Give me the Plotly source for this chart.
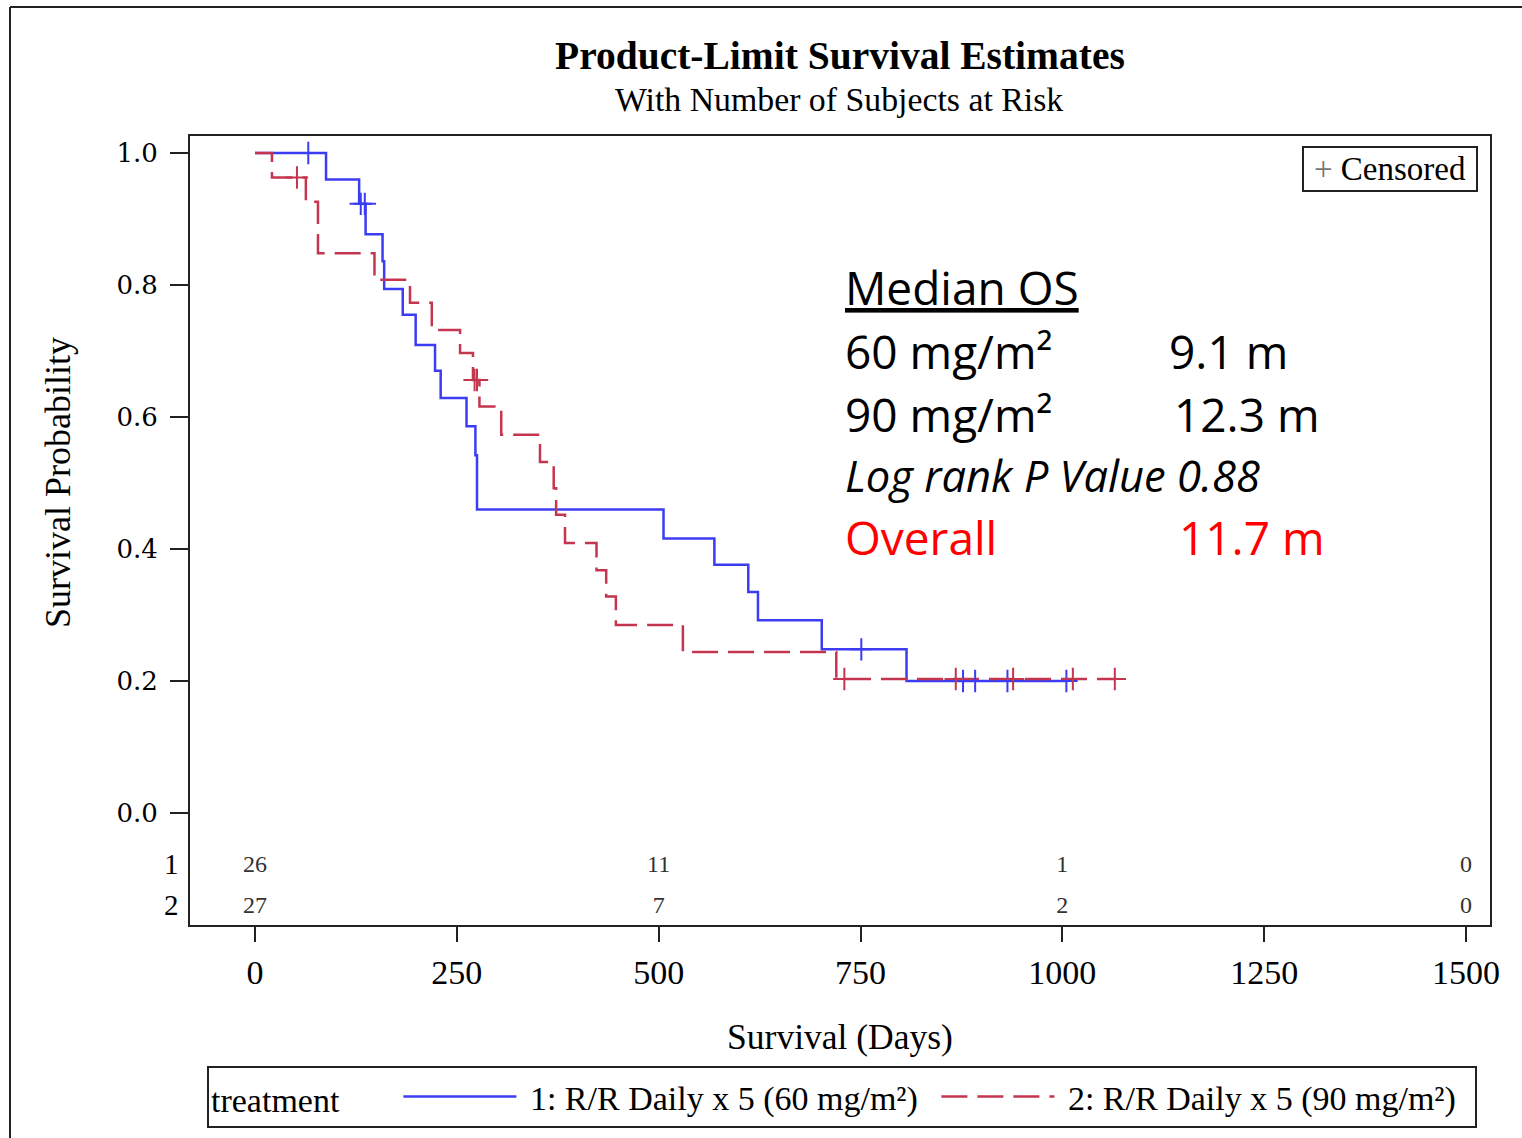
import plotly.graph_objects as go

# ---------------- data ----------------
days_g1 = [0, 88, 129, 137, 158, 160, 183, 199, 223, 230, 262, 273, 275, 506, 569, 611, 623, 702, 807, 1005]
surv_g1 = [1.0, 0.960, 0.923, 0.877, 0.836, 0.794, 0.755, 0.709, 0.670, 0.629, 0.586, 0.542, 0.460,
           0.416, 0.376, 0.335, 0.292, 0.248, 0.200, 0.200]
cens_days_g1 = [66, 131, 136, 751, 877, 892, 932, 1005]
cens_surv_g1 = [1.0, 0.923, 0.923, 0.248, 0.200, 0.200, 0.200, 0.200]

days_g2 = [0, 21, 63, 78, 148, 192, 219, 254, 270, 278, 305, 353, 370, 373, 384, 423, 435, 447, 530, 720, 1065]
surv_g2 = [1.0, 0.963, 0.926, 0.848, 0.808, 0.773, 0.732, 0.697, 0.656, 0.616, 0.573, 0.532, 0.492, 0.452,
           0.409, 0.368, 0.328, 0.285, 0.244, 0.203, 0.203]
cens_days_g2 = [52, 272, 275, 730, 868, 939, 1013, 1065]
cens_surv_g2 = [0.963, 0.656, 0.656, 0.203, 0.203, 0.203, 0.203, 0.203]

risk_days = [0, 500, 1000, 1500]
risk_g1 = [26, 11, 1, 0]
risk_g2 = [27, 7, 2, 0]

x_ticks = [0, 250, 500, 750, 1000, 1250, 1500]
y_ticks = [0.0, 0.2, 0.4, 0.6, 0.8, 1.0]
y_ticktext = ["0.0", "0.2", "0.4", "0.6", "0.8", "1.0"]

name_g1 = " 1: R/R Daily x 5 (60 mg/m²)"
name_g2 = " 2: R/R Daily x 5 (90 mg/m²)"

# ---------------- styles ----------------
BLUE = "#3c3cf2"
RED = "#c4364f"
AX = "#222222"
SERIF = "Liberation Serif"
ROW1_Y = -0.0803
ROW2_Y = -0.1424

fig = go.Figure()

fig.add_trace(go.Scatter(x=days_g1, y=surv_g1, mode="lines", line=dict(shape="hv", color=BLUE, width=2.5),
                         name=name_g1))
fig.add_trace(go.Scatter(x=days_g2, y=surv_g2, mode="lines",
                         line=dict(shape="hv", color=RED, width=2.5, dash="26px,10px"), name=name_g2))
fig.add_trace(go.Scatter(x=cens_days_g1, y=cens_surv_g1, mode="markers", showlegend=False,
                         marker=dict(symbol="cross-thin", size=16, line=dict(width=2, color=BLUE))))
fig.add_trace(go.Scatter(x=cens_days_g2, y=cens_surv_g2, mode="markers", showlegend=False,
                         marker=dict(symbol="cross-thin", size=16, line=dict(width=2, color=RED))))

# number at risk rows
fig.add_trace(go.Scatter(x=risk_days, y=[ROW1_Y] * len(risk_days), mode="text", showlegend=False,
                         text=[str(v) for v in risk_g1], textfont=dict(family=SERIF, size=24, color="#333")))
fig.add_trace(go.Scatter(x=risk_days, y=[ROW2_Y] * len(risk_days), mode="text", showlegend=False,
                         text=[str(v) for v in risk_g2], textfont=dict(family=SERIF, size=24, color="#333")))

W, H = 1522, 1138
L, R, T, B = 190, 32, 136, 213
pw, ph = W - L - R, H - T - B


def px(x):
    return (x - L) / pw


def py(y):
    return (H - B - y) / ph


annos = []
annos.append(dict(text="<b>Product-Limit Survival Estimates</b>", x=px(840), y=py(56), xref="paper", yref="paper",
                  showarrow=False, font=dict(family=SERIF, size=39.5, color="black"), xanchor="center",
                  yanchor="middle"))
annos.append(dict(text="With Number of Subjects at Risk", x=px(839), y=py(99), xref="paper", yref="paper",
                  showarrow=False, font=dict(family=SERIF, size=33.8, color="black"), xanchor="center",
                  yanchor="middle"))
annos.append(dict(text="Survival Probability", x=px(58), y=py(483), xref="paper", yref="paper", textangle=-90,
                  showarrow=False, font=dict(family=SERIF, size=36, color="black"), xanchor="center",
                  yanchor="middle"))
for lab, yy in (("1", ROW1_Y), ("2", ROW2_Y)):
    annos.append(dict(text=lab, x=px(171), y=yy, xref="paper", yref="y", showarrow=False, yshift=2,
                      font=dict(family=SERIF, size=29, color="black"), xanchor="center", yanchor="middle"))

annos.append(dict(text="<span style='color:#777'>+</span> Censored", x=px(1390), y=py(169), xref="paper",
                  yref="paper", showarrow=False, font=dict(family=SERIF, size=33, color="black"),
                  xanchor="center", yanchor="middle", bordercolor=AX, borderwidth=2, borderpad=4,
                  width=164, height=34, bgcolor="white"))

SANS = "Open Sans"
lines_left = [("<u>Median OS</u>", 287, 46, "black"), ("60 mg/m²", 351, 46, "black"), ("90 mg/m²", 414, 46, "black"),
              ("<i>Log rank P Value 0.88</i>", 475, 43.5, "black"), ("Overall", 537, 46, "#ff0000")]
for t, yy, s, c in lines_left:
    annos.append(dict(text=t, x=px(843), y=py(yy), xref="paper", yref="paper", showarrow=False,
                      font=dict(family=SANS, size=s, color=c), xanchor="left", yanchor="middle"))
lines_right = [("9.1 m", 1167, 351, "black"), ("12.3 m", 1172, 414, "black"), ("11.7 m", 1177, 537, "#ff0000")]
for t, xx, yy, c in lines_right:
    annos.append(dict(text=t, x=px(xx), y=py(yy), xref="paper", yref="paper", showarrow=False,
                      font=dict(family=SANS, size=46, color=c), xanchor="left", yanchor="middle"))

shapes = [
    dict(type="line", xref="paper", yref="paper", x0=px(10), y0=py(7), x1=px(1530), y1=py(7),
         line=dict(color=AX, width=2)),
    dict(type="line", xref="paper", yref="paper", x0=px(10), y0=py(7), x1=px(10), y1=py(1145),
         line=dict(color=AX, width=2)),
]

fig.update_layout(
    width=W, height=H, autosize=False,
    margin=dict(l=L, r=R, t=T, b=B, pad=0, autoexpand=False),
    paper_bgcolor="white", plot_bgcolor="white",
    font=dict(family=SERIF, color="black"),
    annotations=annos, shapes=shapes,
    showlegend=True,
    legend=dict(orientation="h", x=px(207), y=py(1066), xanchor="left", yanchor="top",
                bordercolor=AX, borderwidth=2, bgcolor="white",
                title=dict(text="treatment      ", font=dict(family=SERIF, size=34)),
                font=dict(family=SERIF, size=34, color="black"), itemwidth=113,
                entrywidth=410, entrywidthmode="pixels"),
)
fig.update_xaxes(range=[-80.5, 1529.7], tickvals=x_ticks, ticks="outside", ticklen=15, tickwidth=2, tickcolor=AX,
                 showline=True, mirror=True, linecolor=AX, linewidth=2, showgrid=False, zeroline=False,
                 automargin=False,
                 tickfont=dict(family=SERIF, size=34, color="black"), ticklabelstandoff=1,
                 title=dict(text="Survival (Days)", font=dict(family=SERIF, size=35.5, color="black"), standoff=34))
fig.update_yaxes(range=[-0.1697, 1.0258], tickvals=y_ticks, ticktext=y_ticktext, ticks="outside", ticklen=18,
                 tickwidth=2, tickcolor=AX, showline=True, mirror=True, linecolor=AX, linewidth=2,
                 showgrid=False, zeroline=False, automargin=False,
                 tickfont=dict(family="DejaVu Serif", size=26, color="black"),
                 ticklabelstandoff=7)

fig.write_html("out.html", config={"displayModeBar": False},
               post_script="document.body.style.margin='0';")
